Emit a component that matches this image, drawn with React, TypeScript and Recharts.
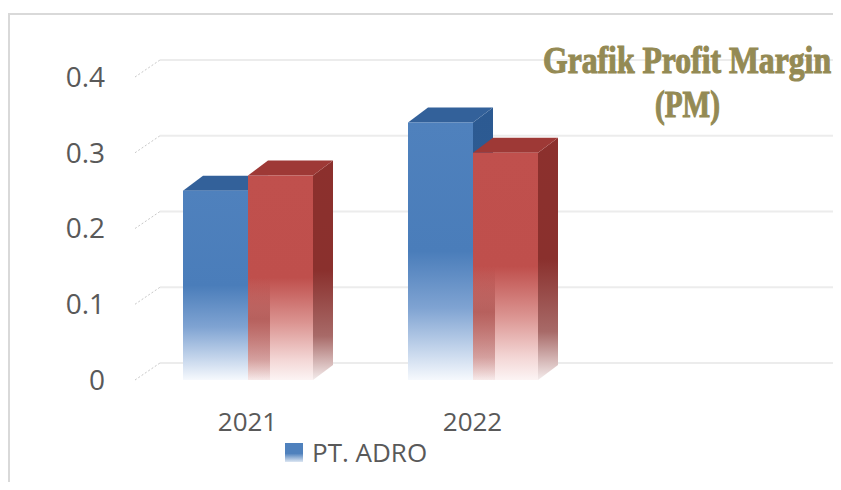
import React from "react";
import { BarChart, Bar, XAxis, YAxis, CartesianGrid, Legend } from "recharts";

const YEARS = ["2021", "2022", ""];
const ADRO = [0.25, 0.34, null];
const SERIES2 = [0.27, 0.3, null];
const Y_TICKS = [0, 0.1, 0.2, 0.3, 0.4];
const SERIES_NAMES = ["PT. ADRO", "Seri 2"];
const TITLE = ["Grafik Profit Margin", "(PM)"];

const data = YEARS.map((year, i) => ({ year, adro: ADRO[i], s2: SERIES2[i] }));

const W = 833;
const H = 474;
const FONT = "'Open Sans', 'Liberation Sans', sans-serif";
const TEXT = "#595959";
const TITLE_COLOR = "#948A54";

// 3d offsets
const DEPTH_X = 20;
const DEPTH_Y = -15;
const WALL_X = 25;
const WALL_Y = -17;

const THEMES: Record<string, any> = {
  blue: { front: "url(#frontBlue)", top: "#33619A", side: "url(#sideBlue)" },
  red: { front: "url(#frontRed)", top: "#9E3936", side: "url(#sideRed)", strip: "url(#stripRed)" },
};

function Bar3D(props: any) {
  const { x, y, width, height, theme } = props;
  if (!height || height <= 0) return null;
  const t = THEMES[theme];
  const r = x + width;
  const b = y + height;
  return (
    <g>
      <polygon
        points={`${r},${y} ${r + DEPTH_X},${y + DEPTH_Y} ${r + DEPTH_X},${b + DEPTH_Y} ${r},${b}`}
        fill={t.side}
      />
      <polygon
        points={`${x},${y} ${x + DEPTH_X},${y + DEPTH_Y} ${r + DEPTH_X},${y + DEPTH_Y} ${r},${y}`}
        fill={t.top}
      />
      <rect x={x} y={y} width={width} height={height} fill={t.front} />
      {t.strip && <rect x={x} y={y} width={DEPTH_X + 2} height={height} fill={t.strip} />}
    </g>
  );
}

const gridLine = (p: any) => {
  const { x1, y1, x2, y2 } = p;
  return (
    <g key={`g-${y1}`}>
      <line x1={x1} y1={y1} x2={x1 + WALL_X} y2={y1 + WALL_Y} stroke="#c8c8c8" strokeDasharray="2 2" />
      <line
        x1={x1 + WALL_X}
        y1={y1 + WALL_Y}
        x2={x2 + WALL_X}
        y2={y2 + WALL_Y}
        stroke="#ececec"
        strokeWidth={2}
      />
    </g>
  );
};

const renderLegend = (props: any) => {
  const items = (props.payload || []).filter((it: any) => it.type !== "none");
  return (
    <div style={{ display: "flex", alignItems: "center" }}>
      {items.map((it: any) => (
        <div key={it.value} style={{ display: "flex", alignItems: "center" }}>
          <svg width={18} height={19} style={{ marginRight: 9 }}>
            <rect width={18} height={19} fill="url(#legendBlue)" />
          </svg>
          <span style={{ fontSize: 26, color: TEXT, fontFamily: FONT }}>{it.value}</span>
        </div>
      ))}
    </div>
  );
};

function Defs() {
  return (
    <svg width={0} height={0} style={{ position: "absolute" }}>
      <defs>
        <linearGradient id="frontBlue" x1="0" y1="0" x2="0" y2="1">
          <stop offset="0" stopColor="#4F81BD" />
          <stop offset="0.5" stopColor="#4A7DBA" />
          <stop offset="0.72" stopColor="#7FA3D2" />
          <stop offset="0.9" stopColor="#CBDAEE" />
          <stop offset="1" stopColor="#F6F9FD" />
        </linearGradient>
        <linearGradient id="sideBlue" x1="0" y1="0" x2="0" y2="1">
          <stop offset="0" stopColor="#2C5A92" />
          <stop offset="0.5" stopColor="#2E5C93" />
          <stop offset="0.8" stopColor="#8AA6CC" />
          <stop offset="1" stopColor="#F2F5FA" />
        </linearGradient>
        <linearGradient id="frontRed" x1="0" y1="0" x2="0" y2="1">
          <stop offset="0" stopColor="#C0504D" />
          <stop offset="0.5" stopColor="#BF4F4C" />
          <stop offset="0.72" stopColor="#DB9491" />
          <stop offset="0.9" stopColor="#F3D6D5" />
          <stop offset="1" stopColor="#FCF4F4" />
        </linearGradient>
        <linearGradient id="sideRed" x1="0" y1="0" x2="0" y2="1">
          <stop offset="0" stopColor="#8C302D" />
          <stop offset="0.5" stopColor="#8A302D" />
          <stop offset="0.8" stopColor="#A86A68" />
          <stop offset="1" stopColor="#F4ECEC" />
        </linearGradient>
        <linearGradient id="stripRed" x1="0" y1="0" x2="0" y2="1">
          <stop offset="0" stopColor="#9B3B38" stopOpacity="0" />
          <stop offset="0.5" stopColor="#9B3B38" stopOpacity="0" />
          <stop offset="0.7" stopColor="#9B3B38" stopOpacity="0.55" />
          <stop offset="0.9" stopColor="#9B3B38" stopOpacity="0.35" />
          <stop offset="1" stopColor="#9B3B38" stopOpacity="0.05" />
        </linearGradient>
        <linearGradient id="legendBlue" x1="0" y1="0" x2="0" y2="1">
          <stop offset="0" stopColor="#4F81BD" />
          <stop offset="0.55" stopColor="#4F81BD" />
          <stop offset="1" stopColor="#DCE6F2" />
        </linearGradient>
      </defs>
    </svg>
  );
}

function TitleLine({ x, y, width, text }: { x: number; y: number; width: number; text: string }) {
  return (
    <g transform={`translate(${x},${y}) scale(1,1.2)`}>
      <text
        x={0}
        y={0}
        textLength={width}
        lengthAdjust="spacingAndGlyphs"
        fill={TITLE_COLOR}
        stroke={TITLE_COLOR}
        strokeWidth={0.9}
        fontFamily="'Liberation Serif', serif"
        fontWeight="bold"
        fontSize={31}
      >
        {text}
      </text>
    </g>
  );
}

export default function App() {
  return (
    <div style={{ position: "relative", width: W, height: H, overflow: "hidden", fontFamily: FONT }}>
      <Defs />
      <div style={{ position: "absolute", left: 0, top: 5, width: W, height: 2, background: "#d9d9d9" }} />
      <div style={{ position: "absolute", left: 0, top: 5, width: 2, height: H, background: "#d9d9d9" }} />
      <BarChart
        width={W}
        height={H}
        data={data}
        margin={{ top: 69, right: 31, bottom: 72, left: 0 }}
        barGap={0}
        barCategoryGap={48}
      >
        <CartesianGrid vertical={false} horizontal={gridLine} />
        <XAxis
          dataKey="year"
          axisLine={false}
          tickLine={false}
          height={30}
          tickMargin={27}
          tick={{ fontSize: 26, fill: TEXT, fontFamily: FONT }}
        />
        <YAxis
          domain={[0, 0.4]}
          ticks={Y_TICKS}
          width={127}
          axisLine={false}
          tickLine={false}
          tickMargin={24}
          tick={{ fontSize: 28, fill: TEXT, fontFamily: FONT }}
        />
        <Legend
          layout="horizontal"
          verticalAlign="middle"
          align="center"
          wrapperStyle={{ left: 277, top: 426, width: "auto" }}
          content={renderLegend}
        />
        <Bar
          dataKey="adro"
          name={SERIES_NAMES[0]}
          isAnimationActive={false}
          shape={(p: any) => <Bar3D {...p} theme="blue" />}
        />
        <Bar
          dataKey="s2"
          name={SERIES_NAMES[1]}
          legendType="none"
          isAnimationActive={false}
          shape={(p: any) => <Bar3D {...p} theme="red" />}
        />
      </BarChart>
      <svg width={W} height={H} style={{ position: "absolute", left: 0, top: 0, pointerEvents: "none" }}>
        <TitleLine x={535} y={65} width={288} text={TITLE[0]} />
        <TitleLine x={647} y={109} width={65} text={TITLE[1]} />
      </svg>
    </div>
  );
}
